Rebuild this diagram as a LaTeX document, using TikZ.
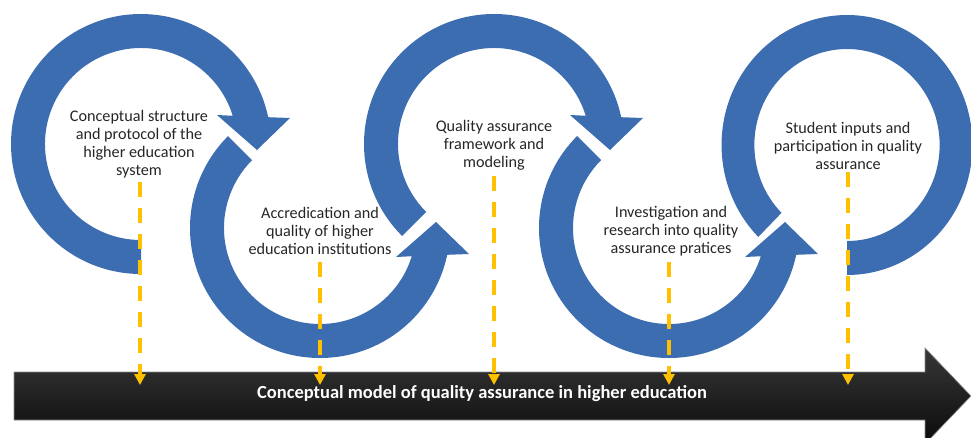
\documentclass[tikz,border=0pt]{standalone}
\usepackage{fontspec}
\setmainfont{Carlito}
\usetikzlibrary{arrows.meta}
\definecolor{ringblue}{HTML}{3D6DB1}
\definecolor{dashyellow}{HTML}{FFC000}
\definecolor{txtgray}{HTML}{262626}
\tikzset{
  ringfill/.style={fill=ringblue, draw=none},
  lbl/.style={align=center, font=\fontsize{16.2}{18}\selectfont, text=txtgray, inner sep=0pt},
  ydash/.style={draw=dashyellow, line width=3.6pt, dash pattern=on 15pt off 11pt,
    -{Triangle[width=11pt,length=11pt]}},
  titletext/.style={font=\bfseries\fontsize{18.5}{20}\selectfont, text=white, inner sep=0pt},
}
\newcommand{\ringtop}[1]{%
  \fill[ringfill] (#1:130) arc[start angle=#1, end angle=348.1, radius=130]
    -- (149,-26) -- (116,6) -- (76,-29) -- (342.9:96)
    arc[start angle=342.9, end angle=#1, radius=96] -- cycle;}
\newcommand{\ringbottom}{%
  \fill[ringfill] (225:130) arc[start angle=225, end angle=11.9, radius=130]
    -- (149,26) -- (116,-6) -- (76,29) -- (17.1:96)
    arc[start angle=17.1, end angle=225, radius=96] -- cycle;}
\begin{document}
\begin{tikzpicture}[x=1pt,y=-1pt]
\useasboundingbox (0,0) rectangle (971,437);
\clip (0,0) rectangle (971,437);
% rings
\begin{scope}[shift={(141,144)}]\ringtop{90}\end{scope}
\begin{scope}[shift={(320,228)}]\ringbottom\end{scope}
\begin{scope}[shift={(494,144)}]\ringtop{135}\end{scope}
\begin{scope}[shift={(669,228)}]\ringbottom\end{scope}
\begin{scope}[shift={(847,145)}, xscale=0.965]
  \fill[ringfill] (135:130) arc[start angle=135, end angle=450, radius=130]
    -- (450:96) arc[start angle=450, end angle=135, radius=96] -- cycle;
\end{scope}
% labels
\node[lbl] (t1) at (139,144) {Conceptual structure\\and protocol of the\\higher education\\system};
\node[lbl] (t2) at (320,231) {Accredication and\\quality of higher\\education institutions};
\node[lbl] (t3) at (494,145) {Quality assurance\\framework and\\modeling};
\node[lbl] (t4) at (671,231) {Investigation and\\research into quality\\assurance pratices};
\node[lbl] (t5) at (848,146) {Student inputs and\\participation in quality\\assurance};
% black arrow
\shade[top color=black!78, bottom color=black!96, draw=black!45, line width=0.6pt]
  (14,372) -- (925,372) -- (925,348) -- (971,396) -- (925,444) -- (925,420) -- (14,420) -- cycle;
\node[titletext] (title) at (482,394) {Conceptual model of quality assurance in higher education};
% dashed connectors
\coordinate (s1) at (140,182); \coordinate (e1) at (140,385);
\coordinate (s2) at (320,262); \coordinate (e2) at (320,385);
\coordinate (s3) at (494,176); \coordinate (e3) at (494,385);
\coordinate (s4) at (669,262); \coordinate (e4) at (669,385);
\coordinate (s5) at (848,172); \coordinate (e5) at (848,385);
\draw[ydash] (s1) -- (e1);
\draw[ydash] (s2) -- (e2);
\draw[ydash] (s3) -- (e3);
\draw[ydash] (s4) -- (e4);
\draw[ydash] (s5) -- (e5);
\end{tikzpicture}
\end{document}
